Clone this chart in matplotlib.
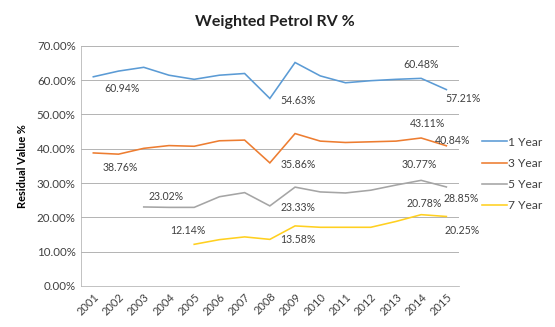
import numpy as np
import matplotlib
matplotlib.use("Agg")
import matplotlib.pyplot as plt

plt.rcParams["font.family"] = ["Lato", "DejaVu Sans"]

# Residual values (%) per model year, gaps where no data exists
years = [str(y) for y in range(2001, 2016)]
nan = np.nan
one_year = [60.94, 62.6, 63.7, 61.4, 60.2, 61.4, 61.9, 54.63, 65.1, 61.2, 59.2, 59.8, 60.2, 60.48, 57.21]
three_year = [38.76, 38.4, 40.1, 40.9, 40.7, 42.3, 42.5, 35.86, 44.4, 42.2, 41.8, 42.0, 42.2, 43.11, 40.84]
five_year = [nan, nan, 23.02, 22.9, 22.9, 26.0, 27.2, 23.33, 28.8, 27.4, 27.1, 27.9, 29.4, 30.77, 28.85]
seven_year = [nan, nan, nan, nan, 12.14, 13.5, 14.3, 13.58, 17.5, 17.1, 17.1, 17.1, 18.8, 20.78, 20.25]
series_names = ["1 Year", "3 Year", "5 Year", "7 Year"]

# which points carry a value label, and where the label sits (offset in points)
label_spots = {
    "1 Year": [(0, 29, -11.6), (7, 28.5, -2), (13, 0, 14), (14, 17, -8.7)],
    "3 Year": [(0, 27, -14.4), (7, 28.5, -2), (13, 6, 14), (14, 6, 5)],
    "5 Year": [(2, 22, 10.3), (7, 28.5, -1.4), (13, -1.5, 15.7), (14, 15, -12)],
    "7 Year": [(4, -6.5, 13.6), (7, 28.5, -0.6), (13, 3.5, 10.7), (14, 16, -14.5)],
}

colors = ["#5B9BD5", "#ED7D31", "#A5A5A5", "#FFD020"]

fig = plt.figure(figsize=(555 / 72, 327 / 72), dpi=72)
ax = fig.add_axes([0.1454, 0.1254, 0.6816, 0.7349])

x = np.arange(len(years))
for name, vals, c in zip(series_names, [one_year, three_year, five_year, seven_year], colors):
    ax.plot(x, vals, color=c, lw=1.6, label=name, solid_joinstyle="miter")
    for i, dx, dy in label_spots[name]:
        ax.annotate(f"{vals[i]:.2f}%", (x[i], vals[i]), xytext=(dx, dy),
                    textcoords="offset points", ha="center", va="center",
                    fontsize=10.5, color="#404040")

ax.set_xlim(-0.5, len(years) - 0.5)
ax.set_ylim(0, 70)
ax.set_yticks(np.arange(0, 71, 10))
ax.set_yticklabels([f"{v:.2f}%" for v in np.arange(0, 71, 10)], fontsize=11.5, color="#404040")
ax.set_xticks(x)
ax.set_xticklabels(years, rotation=45, ha="right", rotation_mode="anchor",
                   fontsize=11, color="#404040")
ax.tick_params(axis="both", length=0, pad=5)

ax.grid(axis="y", color="#b5b5b5", lw=1)
ax.set_axisbelow(True)
for side in ["top", "right"]:
    ax.spines[side].set_visible(False)
ax.spines["left"].set_color("#b5b5b5")
ax.spines["bottom"].set_color("#b5b5b5")

ax.set_ylabel("Residual Value %", fontsize=11, fontweight="bold")
ax.yaxis.set_label_coords(-0.14, 0.5)
fig.text(275 / 555, 1 - 21.7 / 327, "Weighted Petrol RV %", ha="center", va="center",
         fontsize=16, fontweight="bold", color="#202020")

ax.legend(loc="upper left", bbox_to_anchor=(482 / 555, 1 - 136.5 / 327),
          bbox_transform=fig.transFigure, frameon=False, fontsize=12,
          handlelength=2.1, handletextpad=0.1, labelspacing=0.85,
          borderpad=0, borderaxespad=0, labelcolor="#404040")

fig.savefig("out.png", dpi=72)
